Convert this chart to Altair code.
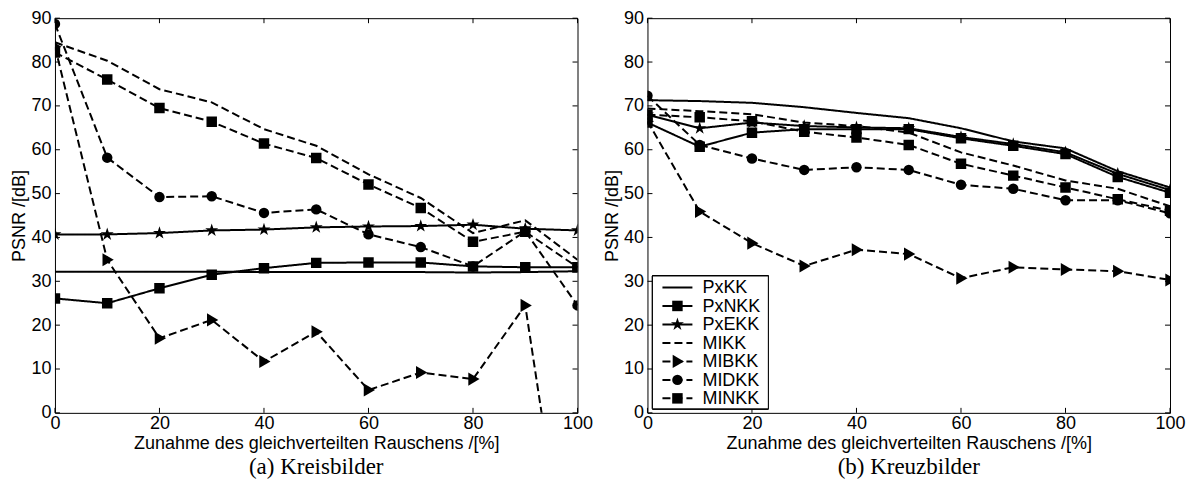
import altair as alt
import pandas as pd

# Noise level in percent (x axis of both panels)
noise = [0, 10, 20, 30, 40, 50, 60, 70, 80, 90, 100]

series_names = ["PxKK", "PxNKK", "PxEKK", "MIKK", "MIBKK", "MIDKK", "MINKK"]

# (a) Kreisbilder – PSNR in dB
a_pxkk = [32.2, 32.2, 32.2, 32.2, 32.1, 32.1, 32.1, 32.1, 32.0, 32.1, 32.3]
a_pxnkk = [26.1, 25.0, 28.4, 31.5, 33.0, 34.2, 34.3, 34.3, 33.4, 33.2, 33.2]
a_pxekk = [40.7, 40.7, 41.0, 41.6, 41.8, 42.3, 42.5, 42.6, 42.9, 42.0, 41.6]
a_mikk = [84.5, 80.3, 73.8, 70.8, 64.7, 60.9, 54.4, 49.0, 41.0, 43.9, 34.9]
a_mibkk = [83.5, 34.9, 17.0, 21.2, 11.7, 18.5, 5.2, 9.2, 7.7, 24.5, -54.0]
a_midkk = [88.7, 58.2, 49.2, 49.4, 45.6, 46.4, 40.7, 37.8, 33.4, 41.4, 24.5]
a_minkk = [82.2, 76.0, 69.5, 66.4, 61.4, 58.1, 52.1, 46.7, 39.0, 41.3, 33.2]

# (b) Kreuzbilder – PSNR in dB
b_pxkk = [71.3, 71.1, 70.7, 69.7, 68.4, 67.2, 64.9, 61.9, 60.3, 55.1, 51.4]
b_pxnkk = [66.2, 60.7, 63.9, 64.7, 64.7, 64.7, 62.6, 60.9, 59.0, 53.8, 50.2]
b_pxekk = [68.0, 64.9, 66.2, 65.4, 65.1, 64.9, 62.9, 61.3, 59.4, 54.5, 50.8]
b_mikk = [69.4, 68.8, 68.1, 66.2, 65.4, 63.9, 59.4, 56.4, 53.0, 51.1, 47.1]
b_mibkk = [66.5, 45.9, 38.7, 33.5, 37.2, 36.2, 30.7, 33.2, 32.7, 32.3, 30.3]
b_midkk = [72.3, 61.1, 58.0, 55.4, 56.0, 55.4, 52.0, 51.1, 48.5, 48.5, 45.5]
b_minkk = [68.0, 67.4, 66.5, 64.1, 62.8, 61.1, 56.8, 54.1, 51.4, 48.7, 46.1]

x_ticks = [0, 20, 40, 60, 80, 100]
y_ticks = [0, 10, 20, 30, 40, 50, 60, 70, 80, 90]

W, H = 523, 395
FONT = "Liberation Sans"
FS = 18
TICK = 5
MARKER = 110

# line style and marker per series
dash_range = [[1, 0], [1, 0], [1, 0], [8, 4], [8, 4], [8, 4], [8, 4]]
marker_series = ["PxNKK", "PxEKK", "MIBKK", "MIDKK", "MINKK"]
star = ("M0,-1.3L0.292,-0.402L1.236,-0.402L0.472,0.153L0.764,1.052L0,0.497"
        "L-0.764,1.052L-0.472,0.153L-1.236,-0.402L-0.292,-0.402Z")
tri_right = "M-0.9,-1.25L1.25,0L-0.9,1.25Z"
shape_range = ["square", star, tri_right, "circle", "square"]


def long_table(cols):
    rows = []
    for name, vals in zip(series_names, cols):
        for xv, yv in zip(noise, vals):
            rows.append({"noise": xv, "psnr": yv, "series": name})
    return pd.DataFrame(rows)


x_scale = alt.Scale(domain=[0, 100], nice=False, zero=False)
y_scale = alt.Scale(domain=[0, 90], nice=False, zero=False)

dash_enc = alt.StrokeDash("series:N", scale=alt.Scale(domain=series_names, range=dash_range), legend=None)
shape_enc = alt.Shape("series:N", scale=alt.Scale(domain=marker_series, range=shape_range), legend=None)


def legend_layers():
    """Boxed legend in the lower left corner: line sample, marker and name per series."""
    leg = pd.DataFrame({"series": series_names})
    out = [alt.Chart(leg).mark_rect(fill="white", stroke="black", strokeWidth=1).encode(
        x=alt.value(5), x2=alt.value(121), y=alt.value(258), y2=alt.value(391))]
    for i, name in enumerate(series_names):
        yp = 269.5 + i * 18.5
        row = alt.Chart(leg).transform_filter(alt.datum.series == name)
        out.append(row.mark_rule(color="black", strokeWidth=2).encode(
            x=alt.value(15), x2=alt.value(45), y=alt.value(yp), strokeDash=dash_enc))
        if name in marker_series:
            out.append(row.mark_point(filled=True, color="black", opacity=1, size=MARKER).encode(
                x=alt.value(30), y=alt.value(yp), shape=shape_enc))
        out.append(row.mark_text(align="left", baseline="middle", font=FONT,
                                 fontSize=FS, color="black").encode(
            x=alt.value(55), y=alt.value(yp + 1), text="series:N"))
    return out


def panel(cols, caption, with_legend=False):
    df = long_table(cols)
    x_enc = alt.X("noise:Q", scale=x_scale,
                  axis=alt.Axis(values=x_ticks, title="Zunahme des gleichverteilten Rauschens /[%]"))
    y_enc = alt.Y("psnr:Q", scale=y_scale,
                  axis=alt.Axis(values=y_ticks, title="PSNR /[dB]"))

    lines = alt.Chart(df).mark_line(color="black", strokeWidth=2, clip=True).encode(
        x=x_enc, y=y_enc, detail="series:N", strokeDash=dash_enc)
    points = alt.Chart(df).transform_filter(
        alt.FieldOneOfPredicate(field="series", oneOf=marker_series)
    ).mark_point(filled=True, color="black", opacity=1, clip=True, size=MARKER).encode(
        x="noise:Q", y="psnr:Q", shape=shape_enc)

    xt = pd.DataFrame({"noise": x_ticks})
    yt = pd.DataFrame({"psnr": y_ticks})
    tick_style = dict(color="black", strokeWidth=1)
    ticks = [
        alt.Chart(xt).mark_rule(**tick_style).encode(x="noise:Q", y=alt.value(H), y2=alt.value(H - TICK)),
        alt.Chart(xt).mark_rule(**tick_style).encode(x="noise:Q", y=alt.value(0), y2=alt.value(TICK)),
        alt.Chart(yt).mark_rule(**tick_style).encode(y="psnr:Q", x=alt.value(0), x2=alt.value(TICK)),
        alt.Chart(yt).mark_rule(**tick_style).encode(y="psnr:Q", x=alt.value(W), x2=alt.value(W - TICK)),
    ]

    layers = [lines, points] + ticks
    if with_legend:
        layers += legend_layers()

    return alt.layer(*layers).properties(
        width=W, height=H,
        title=alt.TitleParams(caption, orient="bottom", font="Liberation Serif", fontSize=23,
                              fontWeight="normal", color="black", offset=3),
    )


left = panel([a_pxkk, a_pxnkk, a_pxekk, a_mikk, a_mibkk, a_midkk, a_minkk], "(a) Kreisbilder")
right = panel([b_pxkk, b_pxnkk, b_pxekk, b_mikk, b_mibkk, b_midkk, b_minkk], "(b) Kreuzbilder",
              with_legend=True)

chart = alt.hconcat(left, right, spacing=9).properties(
    padding={"left": 10, "top": 8, "right": 3, "bottom": 3},
    background="white",
).configure_view(
    stroke="black", strokeWidth=1
).configure_axis(
    grid=False, domain=False, ticks=False,
    labelFont=FONT, labelFontSize=FS, labelColor="black", labelPadding=2,
    titleFont=FONT, titleFontSize=FS, titleColor="black", titleFontWeight="normal",
    labelFlush=False,
).configure_axisY(titlePadding=2, labelPadding=4).configure_axisX(titlePadding=2)

chart.save("out.html", embed_options={"renderer": "svg", "actions": False})
